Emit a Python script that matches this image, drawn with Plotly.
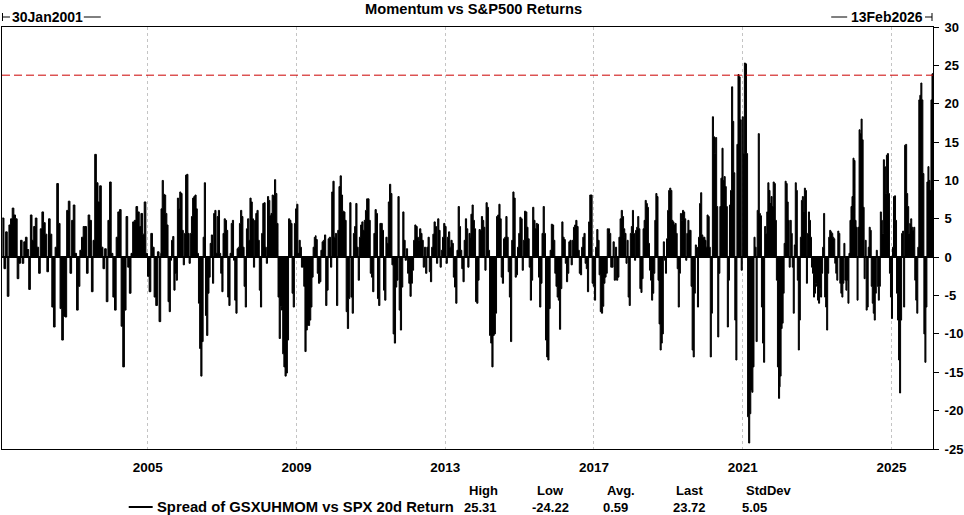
import pandas as pd
import plotly.graph_objects as go

TITLE = "Momentum vs S&P500 Returns"
SERIES_NAME = "Spread of GSXUHMOM vs SPX 20d Return"
START_LABEL = "30Jan2001"
END_LABEL = "13Feb2026"
X_START = "2001-01-30"
X_END = "2026-02-13"

# 20d return spread (values in %)
SPREAD_2001_2005 = [
    5.1, -1.5, 3.3, -5.1, 4.2, 5.0, 6.4, 5.5, 5.0, -2.8, -0.8, 2.2, -0.8, 2.0, 2.6, 1.0,
    -4.2, 5.5, 2.2, 4.0, 5.1, 1.3, -2.1, 3.7, 5.9, 4.5, 3.0, -1.9, 5.0, 3.0, -6.5, -9.1,
    1.3, 9.6, 4.4, -6.7, -10.8, -7.7, -7.8, 6.1, 7.3, -2.1, 4.8, 6.8, 0.5, -6.9, -3.8, 0.9,
    2.6, 4.0, 4.0, -2.1, 5.5, 4.8, -4.5, 2.2, 13.4, 9.7, 7.2, 9.3, 1.3, -1.5, 1.1, -5.8,
    4.8, 9.8, 0.5, -5.2, -6.9, 2.6, 5.9, 6.2, -9.0, -14.3, -6.9, 5.3, -1.3, -4.7, 0.5, 4.6,
    4.8, 6.6, 5.9, 4.0, 5.7, 3.0, 7.2, 0.5, -2.5, -4.5, 3.1, 1.3, -5.2, -6.3, 0.7, -8.4, 0.5,
]
SPREAD_2005_2009 = [
    6.3, 10.0, 8.2, 8.1, 5.7, 4.2, -5.8, -7.1, -0.4, 2.2, 2.7, -4.3, -2.1, -3.0, 7.7, 6.3,
    8.5, 8.3, 3.5, -1.0, 3.1, 10.7, 10.8, 3.1, -0.8, 3.1, 5.3, 7.7, 7.9, 8.1, 6.3, 0.5,
    -6.0, -11.9, -15.5, -11.0, 2.6, 9.7, -7.6, -10.2, -4.7, -2.6, 1.8, 2.9, -3.4, 5.7, 6.1, 0.5,
    5.3, 6.1, 0.5, -2.1, -4.5, 3.1, 5.0, 4.8, 3.5, -5.2, -6.3, 0.5, 4.4, 4.8, -0.4, -5.6,
    -7.3, 1.1, 1.3, 4.4, 6.1, 5.3, 1.3, -3.8, -6.5, 3.7, 5.0, 2.2, 7.7, 7.2, 5.0, -1.3,
    4.8, 5.7, 6.1, 2.2, -4.3, -6.5, 3.1, 7.0, 7.1, 1.3, -0.8, 7.9, 7.4, 5.4, 5.7, 8.1,
    8.0, 10.1, 8.3, 4.4, -5.2, -10.6, -6.4, -6.9, -12.6, -14.3, -15.5, -15.1, -10.8, 5.0, 4.8, 4.4,
    -4.7, -6.5, 4.4, 6.3, 6.9, 0.5, 2.2, 1.3, -1.3, -1.3, -3.8, -12.3, -9.5, -8.9, -8.9, -8.2,
    -6.5, -2.6, 1.3, 2.6, 2.8,
]
SPREAD_2009_2013 = [
    2.3, -2.1, -3.4, -3.2, 0.9, 2.0, 2.2, 2.9, -6.3, -4.3, 2.4, 2.6, -1.3, 8.5, 9.9, 2.6,
    3.1, -6.3, 3.5, 9.2, 10.6, 8.1, 6.0, 5.9, 4.8, -7.1, -9.3, -5.4, 7.1, -5.2, -7.3, 3.1,
    4.0, 7.0, 1.3, -3.0, 2.6, 4.2, 4.6, 3.5, 4.8, 6.1, 7.6, 7.6, 4.8, -2.1, -2.6, -4.5,
    3.1, 6.2, 5.7, -5.4, -6.3, 4.4, 4.4, 3.5, -4.3, -5.6, 2.6, 1.8, 7.2, 9.5, 8.3, -1.0,
    -10.0, -11.2, -3.9, -3.0, 7.9, -6.9, -9.5, -3.9, 5.9, 2.2, -0.4, 1.1, -2.1, -3.4, -5.1, -3.4,
    -1.7, 2.2, 4.2, 4.0, 2.6, 2.2, 3.7, 3.1, 2.2, -1.3, 1.3, -2.1, 1.3, 2.6, -1.9, -3.2,
    1.3, 3.0, 4.6, 4.0, -0.8, 5.0, 3.5, -1.3, 0.9, 2.6, 4.4, 4.0, -0.8, 2.6, 3.3, 1.3,
    2.2, 1.8, -2.6, -3.9, -6.0, 0.9, 6.6, 4.0, 0.9, -1.5, -3.2, 2.2, 5.0, 3.7, -1.3, 3.1, 2.6,
]
SPREAD_2013_2017 = [
    5.6, 6.8, 4.8, 3.7, -5.8, -6.0, -3.0, 3.6, 3.5, 5.3, 4.8, 3.9, -1.7, 7.1, 6.5, 0.9,
    -10.2, -11.2, -14.3, -10.2, -10.0, -7.3, 5.3, 5.5, 6.9, 5.0, -2.6, -3.4, 2.4, 2.6, 5.3, 2.6,
    -1.9, -5.2, -11.0, 2.2, 8.5, 7.7, -2.6, -2.3, 1.3, 3.1, 5.2, 5.0, -1.7, 2.2, 6.0, 5.9,
    3.9, 2.4, -1.3, -5.6, -3.0, 6.5, 4.8, 3.7, 4.4, 4.3, -2.6, -6.5, -3.4, 3.1, 6.6, 3.1,
    -10.8, -13.0, -13.4, -6.7, 0.9, 4.3, 4.2, 2.2, -2.1, -3.8, -5.2, -5.6, -9.4, -4.1, 4.6, 2.6,
    2.3, -0.8, -3.2, -2.1, 2.0, 2.2, -1.0, 2.2, 3.9, 4.2, 4.8, 4.0, 0.9, -2.1, -2.3, 1.3,
    2.6, 3.1, -0.8, -1.5, -4.5, 4.6, 8.1, 8.1, -3.4, -3.8, -5.6, 1.3, 3.6, 2.2, -2.3, -7.1,
    -7.3, -6.4, -3.4, -2.6, -2.1, 3.7, 3.7, 3.1, -1.3, -1.3, 2.0, -3.0, 1.3, -3.0, -2.6, 2.6,
    5.0, 6.1, 5.3, 3.7, 2.6,
]
SPREAD_2017_2021 = [
    3.1, -0.8, 2.2, -5.2, -6.3, 3.1, 4.0, 6.1, 3.1, -0.4, 3.5, 3.9, 5.3, 3.7, -4.1, -4.6,
    -2.8, 3.7, 4.8, 7.4, 7.0, 6.5, 1.8, -1.7, -3.0, -5.6, -4.7, -2.1, 4.8, 8.3, 7.9, -3.0,
    -8.7, -12.1, -11.2, -10.0, 2.0, -0.4, -2.1, 2.4, 6.1, 8.7, 9.0, 8.7, 4.8, 4.6, 4.2, 4.4,
    3.1, -1.5, -6.5, -2.1, 5.7, 4.8, 6.1, 5.9, 5.0, -0.4, 3.1, 4.8, 3.5, 3.5, -3.8, -12.1,
    -13.0, -4.7, 1.6, 1.3, -6.5, 2.6, 7.0, 8.4, 2.9, 2.6, 2.6, 2.2, 1.3, 5.5, 5.3, 1.3,
    -13.0, -7.3, 18.3, 15.7, 13.5, 15.6, 6.6, -10.4, -2.1, 6.6, 10.3, 14.2, 10.0, 10.5, 9.2, 6.6,
    -9.1, -3.0, 6.8, 8.7, 22.2, 17.7, 11.0, -8.2, -13.4, 14.7, 23.8, 23.5, 17.9, -1.7, 18.3, 13.5,
    25.31, 25.2, 13.5, -20.8, -24.22, -20.4, -17.3, -17.6, -14.3, 2.6, 1.3, -11.0, 6.1, 16.1, 5.7, 5.4,
    -6.5, -11.2, -13.7, 4.0, 3.1, 5.9, 9.7, 8.7, 7.0, 7.9, 6.6, 9.8, 9.6, 4.8, -3.0, -14.3,
    -18.4, -16.9,
]
SPREAD_2022_2026 = [
    -15.5, -9.3, -8.6, -4.7, 1.8, 9.9, 9.6, 7.2, 4.8, -1.3, 4.8, 3.1, -1.3, -7.3, 1.6, 9.7,
    8.7, -3.0, -12.1, -8.2, 2.6, 7.4, 7.9, 5.9, 9.0, 8.7, -3.4, 3.1, 5.9, 4.8, 2.6, -1.3,
    -2.1, -5.2, -4.7, -3.4, -3.8, -5.6, -6.0, -4.1, -5.2, -2.1, 1.3, 5.7, -5.2, -6.5, -9.5, -2.1,
    2.6, 3.5, 3.3, 3.1, 2.6, 2.4, -0.8, -2.1, -3.0, 3.4, 3.1, -3.4, -4.7, -5.2, -3.4, 1.8,
    -3.0, -4.3, -3.0, -6.0, 0.5, 4.8, 6.6, 7.9, 12.9, 12.6, 4.8, 3.9, -5.6, 3.9, 16.6, 16.1,
    18.0, 15.3, 6.5, -2.8, 2.2, -6.9, -6.5, 1.3, 3.9, 3.5, -3.8, -6.0, -7.3, -8.2, -4.7, 0.9,
    -3.8, -5.6, -3.8, 5.9, 4.8, 3.1, 12.7, 11.8, 8.3, 13.3, 13.5, 8.3, -2.1, -5.2, -8.0, 1.3,
    7.9, 8.0, 4.8, -4.7, -8.2, -13.4, -17.7, -8.2, 3.1, 3.4, -6.5, 14.6, 14.7, 8.3, 6.6, 3.1,
    4.4, 5.0, 3.9, 3.5, 3.9, -3.0, -5.6, -7.3, 1.3, 20.5, 21.1, 22.7, 20.5, 10.9, -10.0, -13.7,
    -6.5, 9.8, 11.8, 10.0, 8.7, 20.5, 23.9, 23.72,
]

# the stretch of the date axis each array covers
SEGMENT_SPANS = [
    ("2001-02-02", "2005-05-08"),
    ("2005-05-11", "2009-07-06"),
    ("2009-07-12", "2013-09-03"),
    ("2013-09-10", "2017-10-30"),
    ("2017-11-01", "2021-12-29"),
    ("2022-01-03", "2026-02-13"),
]
SEGMENT_VALUES = [
    SPREAD_2001_2005, SPREAD_2005_2009, SPREAD_2009_2013,
    SPREAD_2013_2017, SPREAD_2017_2021, SPREAD_2022_2026,
]

STAT_NAMES = ["High", "Low", "Avg.", "Last", "StdDev"]
STAT_VALUES = ["25.31", "-24.22", "0.59", "23.72", "5.05"]
LAST_VALUE = 23.72

Y_TICKS = [-25, -20, -15, -10, -5, 0, 5, 10, 15, 20, 25, 30]
X_TICKS = ["2005-01-01", "2009-01-01", "2013-01-01", "2017-01-01", "2021-01-01", "2025-01-01"]
X_TICK_TEXT = ["2005", "2009", "2013", "2017", "2021", "2025"]

FONT = "Arial, Liberation Sans, sans-serif"

# plot box in page pixels, used to place the decorations around it
_L, _T, _W, _H = 1, 27, 933, 422


def _px(x):
    return (x - _L) / _W


def _py(y):
    return (_T + _H - y) / _H


def _bold(size):
    return {"family": FONT, "size": size, "color": "black", "weight": "bold"}


parts = []
for (d0, d1), vals in zip(SEGMENT_SPANS, SEGMENT_VALUES):
    parts.append(pd.Series(vals, index=pd.date_range(d0, d1, periods=len(vals))))
spread = pd.concat(parts)

fig = go.Figure(
    go.Scatter(
        x=spread.index,
        y=spread.values,
        mode="lines",
        line_shape="hv",
        fill="tozeroy",
        fillcolor="black",
        line={"color": "black", "width": 1},
        name=SERIES_NAME,
        hoverinfo="skip",
    )
)

fig.add_shape(
    type="line", xref="paper", x0=0, x1=1, yref="y", y0=LAST_VALUE, y1=LAST_VALUE,
    line={"color": "#cc0000", "width": 1, "dash": "8px,4px"},
)

annotations = [
    dict(text=TITLE, x=_px(474), y=_py(9), xanchor="center", yanchor="middle", font=_bold(14.7)),
    dict(text=START_LABEL, x=_px(9), y=_py(17), xanchor="left", yanchor="middle", font=_bold(14)),
    dict(text=END_LABEL, x=_px(850), y=_py(17), xanchor="left", yanchor="middle", font=_bold(14)),
    dict(text=SERIES_NAME, x=_px(154), y=_py(506.5), xanchor="left", yanchor="middle", font=_bold(14.8)),
]
head_x = [467, 535, 605, 674, 745]
val_x = [462, 530, 601, 671, 741]
for name, val, hx, vx in zip(STAT_NAMES, STAT_VALUES, head_x, val_x):
    annotations.append(dict(text=name, x=_px(hx), y=_py(490), xanchor="left", yanchor="middle", font=_bold(13)))
    annotations.append(dict(text=val, x=_px(vx), y=_py(507), xanchor="left", yanchor="middle", font=_bold(13)))
for a in annotations:
    a.update(xref="paper", yref="paper", showarrow=False)

for x0, x1, y0, y1, w in [
    (1.5, 1.5, 13, 21, 1), (1.5, 9, 17, 17, 1), (83, 100, 17, 17, 1),
    (832, 848, 17, 17, 1), (926, 933, 17, 17, 1), (933, 933, 13, 21, 1),
    (128, 152, 507, 507, 2),
]:
    fig.add_shape(type="line", xref="paper", yref="paper",
                  x0=_px(x0), x1=_px(x1), y0=_py(y0), y1=_py(y1),
                  line={"color": "black", "width": w})

fig.update_layout(
    width=964,
    height=515,
    margin={"l": _L, "r": 964 - _L - _W, "t": _T, "b": 515 - _T - _H},
    paper_bgcolor="white",
    plot_bgcolor="white",
    showlegend=False,
    font={"family": FONT, "color": "black"},
    annotations=annotations,
)
fig.update_xaxes(
    type="date",
    range=[X_START, X_END],
    tickvals=X_TICKS,
    ticktext=X_TICK_TEXT,
    tickfont=_bold(13.5),
    ticks="",
    ticklabelstandoff=6,
    showgrid=True,
    gridcolor="#c4c4c4",
    griddash="3px,3px",
    gridwidth=1,
    showline=True,
    linecolor="black",
    linewidth=1,
    mirror=True,
    zeroline=False,
)
fig.update_yaxes(
    side="right",
    range=[-25, 30],
    tickvals=Y_TICKS,
    ticktext=[str(v) for v in Y_TICKS],
    tickfont=_bold(13),
    ticks="outside",
    ticklen=5,
    tickcolor="black",
    ticklabelstandoff=3,
    showgrid=False,
    showline=True,
    linecolor="black",
    linewidth=1,
    mirror=True,
    zeroline=True,
    zerolinecolor="black",
    zerolinewidth=2,
)

fig.write_html(
    "out.html",
    config={"displayModeBar": False},
    post_script="document.body.style.margin='0';",
)
